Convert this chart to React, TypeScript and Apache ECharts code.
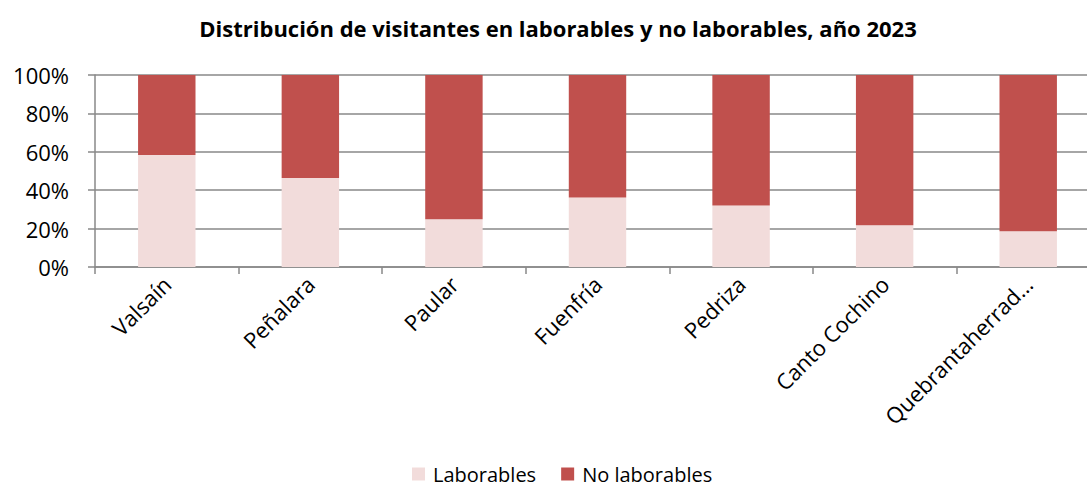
import React, { useEffect, useRef } from "react";
import * as echarts from "echarts";

const categories = ["Valsaín", "Peñalara", "Paular", "Fuenfría", "Pedriza", "Canto Cochino", "Quebrantaherrad…"];
const laborables = [58.3, 46.4, 24.9, 36.2, 32.0, 21.7, 18.6];
const noLaborables = laborables.map((v) => +(100 - v).toFixed(1));
const yTicks = [0, 20, 40, 60, 80, 100];
const titleText = "Distribución de visitantes en laborables y no laborables, año 2023";

const FONT = "'Open Sans', 'Noto Sans', sans-serif";

export default function App() {
  const ref = useRef<HTMLDivElement>(null);
  useEffect(() => {
    document.body.style.margin = "0";
    document.body.style.overflow = "hidden";
    const chart = echarts.init(ref.current!, null, { renderer: "svg" });
    chart.setOption({
      animation: false,
      backgroundColor: "#ffffff",
      graphic: [
        {
          type: "text",
          x: 558,
          y: 28,
          style: {
            text: titleText,
            textAlign: "center",
            textVerticalAlign: "middle",
            fontFamily: FONT,
            fontSize: 22,
            fontWeight: "bold",
            fill: "#000",
          },
        },
      ],
      legend: {
        top: 464,
        left: 412,
        padding: 0,
        itemWidth: 13,
        itemHeight: 13,
        itemGap: 25,
        icon: "rect",
        textStyle: { fontFamily: FONT, fontSize: 20, lineHeight: 18, color: "#000", padding: [0, 0, 0, 3] },
        data: ["Laborables", "No laborables"],
      },
      grid: { left: 95, top: 75, bottom: 222, right: 0, containLabel: false },
      xAxis: {
        type: "category",
        data: categories,
        axisLine: { lineStyle: { color: "#898989", width: 1.5 } },
        axisTick: { show: true, length: 7, lineStyle: { color: "#898989", width: 1.5 } },
        axisLabel: {
          rotate: 45,
          interval: 0,
          margin: 13,
          fontFamily: FONT,
          fontSize: 22,
          color: "#000",
        },
      },
      yAxis: {
        type: "value",
        min: 0,
        max: 100,
        interval: 20,
        axisLine: { show: true, lineStyle: { color: "#898989", width: 1.5 } },
        axisTick: { show: true, length: 7, lineStyle: { color: "#898989", width: 1.5 } },
        splitLine: { lineStyle: { color: "#898989", width: 1.5 } },
        axisLabel: {
          fontFamily: FONT,
          fontSize: 22,
          color: "#000",
          margin: 26,
          formatter: (v: number) => (yTicks.includes(v) ? v + "%" : ""),
        },
      },
      series: [
        {
          name: "Laborables",
          type: "bar",
          stack: "total",
          barWidth: "40%",
          itemStyle: { color: "#F2DCDB" },
          data: laborables,
        },
        {
          name: "No laborables",
          type: "bar",
          stack: "total",
          barWidth: "40%",
          itemStyle: { color: "#C0504D" },
          data: noLaborables,
        },
      ],
    });
    return () => chart.dispose();
  }, []);
  return <div ref={ref} style={{ width: 1100, height: 489 }} />;
}
